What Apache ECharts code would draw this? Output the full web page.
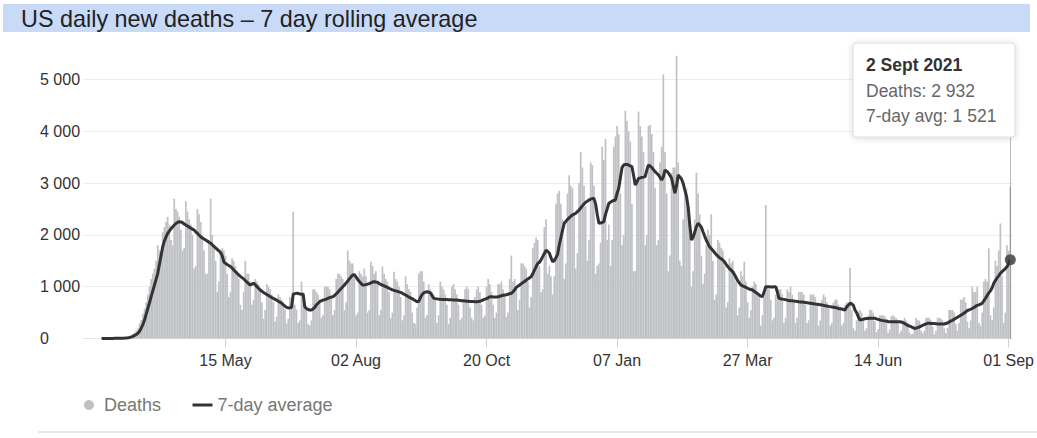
<!DOCTYPE html>
<html><head><meta charset="utf-8">
<script src="https://cdn.jsdelivr.net/npm/echarts@6/dist/echarts.min.js"></script>
<style>html,body{margin:0;padding:0;background:#fff;}#chart{width:1037px;height:438px;}</style>
</head><body><div id="chart"></div>
<script>
// ---- data ----
const startDate = '2020-03-01';
const deaths = [
1,1,1,2,3,2,2, 3,4,5,5,7,8,12, 10,18,25,40,55,80,110,
150,200,290,360,480,580,700, 850,1000,1150,1250,1350,1500,1800,
1700,1650,2050,2150,2250,2350,2200, 1900,1800,2700,2500,2450,2350,2100,
1700,1750,2650,2450,2300,2200,2000, 1350,1400,2500,2400,2250,2000,1700,
1250,1250,1900,2700,2000,1800,1500, 900,1100,1700,1750,1700,1600,1250,
800,900,1550,1500,1400,1300,1150, 650,550,900,1500,1250,1250,1100,
650,750,1150,1100,1050,950,700, 380,550,1050,1000,950,850,700,
330,420,850,800,750,700,560, 290,380,800,780,2450,650,560,
300,350,1100,750,650,600,280, 250,350,950,950,900,850,750,
400,450,1000,1000,1000,950,800, 450,550,1150,1250,1250,1200,1150,
550,700,1700,1500,1450,1450,1250, 450,500,1300,1250,1200,1350,1200,
500,550,1480,1400,1250,1300,1100, 450,550,1390,1250,1150,1100,900,
400,500,1290,1150,1100,1000,800, 350,450,1200,1050,950,900,500,
300,280,600,1250,1300,1300,1100, 400,450,1050,950,900,850,750,
300,450,1100,1000,950,850,650, 280,400,1000,1050,950,850,650,
350,400,750,950,1000,950,600, 400,350,800,950,1000,900,650,
400,450,1000,1150,1050,900,650, 400,500,1050,1050,1100,950,830,
420,500,1150,1600,1100,1150,1000, 550,750,1450,1450,1400,1350,1100,
600,800,1750,1850,1950,1900,1400, 900,950,2150,2300,1250,1400,1200,
850,1200,2600,2800,2850,2600,2300, 1150,1450,2800,3150,2950,2900,2400,
1350,1650,3000,3600,3300,2950,2550, 1500,1900,3400,3350,2950,1250,1400,
1450,1850,3700,3450,3850,1900,2200, 1400,1900,3700,3900,4100,3950,2800,
1800,2000,4400,4200,4000,3800,2600, 1300,1300,3000,4380,4100,3900,3600,
1800,2000,4100,4120,3950,3600,2900, 1800,1900,3400,3700,5100,3600,2800,
1300,1600,3200,3300,3300,5460,3400, 1500,1400,2300,2900,2900,2640,2000,
1000,1300,2300,3200,2800,2400,1600, 1050,1250,1800,2100,2000,2400,1500,
750,850,1900,1850,1750,1700,1400, 600,700,1550,1450,1500,1300,1100,
450,600,1300,1200,1480,1100,700, 400,550,1000,1100,1050,900,850,
250,450,800,2577,1000,950,750, 350,400,850,1000,950,950,850,
300,400,950,900,1000,850,700, 300,400,900,900,900,850,650,
300,350,850,850,850,800,650, 250,350,750,850,800,700,640,
250,300,700,750,750,650,620, 250,300,650,700,650,1360,550,
200,150,350,500,550,500,400, 150,200,450,550,550,500,330,
120,180,450,450,450,430,300, 110,170,430,450,420,390,300,
100,150,350,400,350,300,120, 80,90,250,400,350,350,150,
100,150,400,400,400,350,230, 80,150,400,400,380,350,200,
100,200,550,550,550,500,280, 150,300,750,750,800,700,330,
200,350,1000,900,900,1000,300, 250,500,1100,1150,1100,1740,450,
350,600,1500,1400,1700,2220,1200, 300,500,1800,1695,2932
];
const avg7 = [
1,1,1,1,2,2,2, 2,3,3,4,4,5,6, 8,11,15,21,30,42,60,
78,100,140,200,270,357,470, 580,690,807,920,1030,1140,1258,
1430,1600,1772,1880,1960,2030,2075, 2120,2155,2191,2220,2240,2255,2250,
2235,2210,2190,2170,2150,2130,2112, 2094,2060,2030,1995,1965,1940,1920,
1900,1880,1860,1840,1810,1780,1750, 1720,1690,1660,1600,1480,1452,1430,
1410,1390,1360,1322,1290,1260,1230, 1200,1175,1150,1120,1090,1060,1033,
1050,1066,1040,1000,970,936,913, 890,870,850,830,810,790,776,
755,740,720,700,680,650,625, 600,590,595,600,860,865,875,
870,860,855,860,614,580,560, 550,550,570,600,650,680,710,
725,740,750,760,775,790,800, 807,830,860,895,930,965,1000,
1035,1070,1110,1150,1190,1226,1230, 1190,1140,1100,1065,1033,1035,1040,
1050,1060,1075,1090,1097,1090,1085, 1060,1045,1030,1015,1000,985,970,
955,940,930,920,910,900,890, 873,855,840,820,800,785,770,
750,730,710,720,790,850,880, 895,903,895,880,830,780,770,
765,760,757,755,752,751,752, 750,748,746,745,743,742,740,
735,730,728,725,720,718,715, 713,712,710,710,712,720,730,
745,760,770,785,807,805,800, 800,803,807,815,825,835,840,
845,855,865,873,900,940,985, 1010,1033,1055,1080,1100,1125,1150,
1170,1193,1250,1320,1385,1452,1470, 1520,1580,1640,1708,1680,1650,1560,
1483,1500,1560,1625,1800,1950,2090, 2224,2260,2300,2330,2360,2385,2400,
2417,2450,2480,2520,2560,2600,2630, 2650,2674,2690,2700,2706,2600,2400,
2224,2230,2240,2256,2400,2500,2610, 2630,2650,2665,2674,2800,2900,3100,
3300,3349,3360,3360,3345,3330,3317, 3150,2963,3020,3093,3100,3110,3115,
3125,3250,3349,3330,3300,3260,3221, 3190,3160,3110,3060,3120,3253,3230,
3200,3150,3093,2950,2803,2950,3157, 3120,3080,2996,2870,2750,2545,2200,
1901,1950,2050,2160,2224,2190,2150, 2062,1980,1900,1830,1772,1735,1700,
1660,1620,1590,1560,1540,1515,1480, 1430,1390,1350,1320,1290,1235,1180,
1120,1070,1033,1015,1000,985,970, 955,945,936,910,890,865,840,
820,807,900,1000,1000,1000,995, 995,998,1000,900,776,768,760,
755,750,740,735,730,728,725, 720,715,710,706,703,700,697,
690,685,680,675,670,665,662, 658,653,647,640,633,627,620,
615,610,605,600,590,580,575, 570,560,550,610,645,680,670,
640,550,500,420,357,365,372, 380,385,388,390,390,390,390,
380,370,360,350,345,340,338, 325,325,325,325,325,325,325,
325,318,305,290,270,250,240, 228,210,195,200,210,225,240,
255,270,282,293,293,291,290, 288,285,282,280,280,280,280,
290,300,320,340,350,370,390, 410,430,450,470,490,510,540,
550,565,580,600,620,640,650, 665,680,730,776,830,880,920,
980,1066,1120,1170,1210,1258,1290, 1320,1350,1386,1440,1521
];
const tickDates = ['2020-05-15','2020-08-02','2020-10-20','2021-01-07','2021-03-27','2021-06-14','2021-09-01'];
const tickLabels = ['15 May','02 Aug','20 Oct','07 Jan','27 Mar','14 Jun','01 Sep'];
const tipMonths = ['Jan','Feb','Mar','Apr','May','June','July','Aug','Sept','Oct','Nov','Dec'];

// ---- build (x = day number counted from startDate) ----
const DAY = 86400000;
const t0 = Date.parse(startDate);
const deathData = deaths.map((v, i) => [i, v]);
const avgData = avg7.map((v, i) => [i, v]);
const last = deaths.length - 1;
const tickDays = tickDates.map(d => Math.round((Date.parse(d) - t0) / DAY));
const fmt = v => String(Math.round(v)).replace(/\B(?=(\d{3})+(?!\d))/g, ' ');
const lastD = new Date(t0 + last * DAY);
const tipTitle = lastD.getUTCDate() + ' ' + tipMonths[lastD.getUTCMonth()] + ' ' + lastD.getUTCFullYear();
const FF = '"Liberation Sans", Arial, sans-serif';

const chart = echarts.init(document.getElementById('chart'), null, {renderer: 'svg'});
chart.setOption({
  animation: false,
  backgroundColor: '#fff',
  textStyle: {fontFamily: FF},
  grid: {left: 83, right: 23, top: 53.6, bottom: 99.5},
  legend: {
    left: 79, top: 391, itemWidth: 20, itemHeight: 10, itemGap: 30,
    selectedMode: false,
    textStyle: {fontSize: 18, color: '#777', fontFamily: FF},
    data: [
      {name: 'Deaths', icon: 'circle', itemStyle: {color: '#bfc1c5'}},
      {name: '7-day average', itemStyle: {opacity: 0}, lineStyle: {color: '#333', width: 3}}
    ]
  },
  xAxis: {
    type: 'value',
    min: -11.24,
    max: 551.4,
    axisLine: {show: true, lineStyle: {color: '#e6e6e6'}},
    axisTick: {show: true, customValues: tickDays, length: 9, lineStyle: {color: '#d0d0d0'}},
    axisLabel: {
      customValues: tickDays, margin: 14, fontSize: 16, color: '#333', fontFamily: FF,
      formatter: v => { const j = tickDays.indexOf(Math.round(v)); return j >= 0 ? tickLabels[j] : ''; }
    },
    splitLine: {show: false}
  },
  yAxis: {
    type: 'value', min: 0, max: 5500, interval: 1000,
    axisLine: {show: false}, axisTick: {show: false},
    axisLabel: {align: 'left', margin: 43, fontSize: 16, color: '#333', fontFamily: FF, showMaxLabel: false, formatter: fmt},
    splitLine: {show: true, showMaxLine: false, lineStyle: {color: '#ececec'}}
  },
  series: [
    {
      name: 'Deaths', type: 'bar', data: deathData, barWidth: 1.7,
      itemStyle: {color: '#bfc1c5'}, silent: true, z: 1
    },
    {
      name: '7-day average', type: 'line', data: avgData, symbol: 'none', showSymbol: false,
      lineStyle: {color: '#333', width: 3}, itemStyle: {color: '#333'}, silent: true, z: 3,
      markLine: {
        silent: true, symbol: ['none', 'none'], label: {show: false},
        lineStyle: {type: 'dotted', color: '#777', width: 1},
        data: [{xAxis: last}]
      }
    },
    {
      name: 'last', type: 'scatter', data: [[last, avg7[last]]], symbolSize: 11,
      itemStyle: {color: '#333'}, silent: true, z: 4
    }
  ],
  graphic: [
    {type: 'rect', x: 3, y: 4, z: 100, shape: {width: 1027, height: 28}, style: {fill: '#c9daf8'}},
    {type: 'text', x: 21, y: 19, z: 101, style: {text: 'US daily new deaths \u2013 7 day rolling average', fontSize: 23.4, fontFamily: FF, fill: '#222', verticalAlign: 'middle', align: 'left'}},
    {type: 'rect', x: 853, y: 43, z: 100, shape: {width: 162, height: 94, r: 3},
      style: {fill: '#fff', stroke: '#dcdcdc', lineWidth: 1, shadowBlur: 6, shadowColor: 'rgba(0,0,0,0.15)', shadowOffsetY: 1}},
    {type: 'text', x: 866, y: 65, z: 101, style: {text: tipTitle, fontSize: 17.5, fontWeight: 'bold', fontFamily: FF, fill: '#333', verticalAlign: 'middle'}},
    {type: 'text', x: 866, y: 91, z: 101, style: {text: 'Deaths: ' + fmt(deaths[last]), fontSize: 17.5, fontFamily: FF, fill: '#666', verticalAlign: 'middle'}},
    {type: 'text', x: 866, y: 116, z: 101, style: {text: '7-day avg: ' + fmt(avg7[last]), fontSize: 17.5, fontFamily: FF, fill: '#666', verticalAlign: 'middle'}},
    {type: 'line', z: 100, shape: {x1: 38, y1: 432, x2: 1037, y2: 432}, style: {stroke: '#e8e8e8', lineWidth: 2}}
  ]
});
</script>
</body></html>
